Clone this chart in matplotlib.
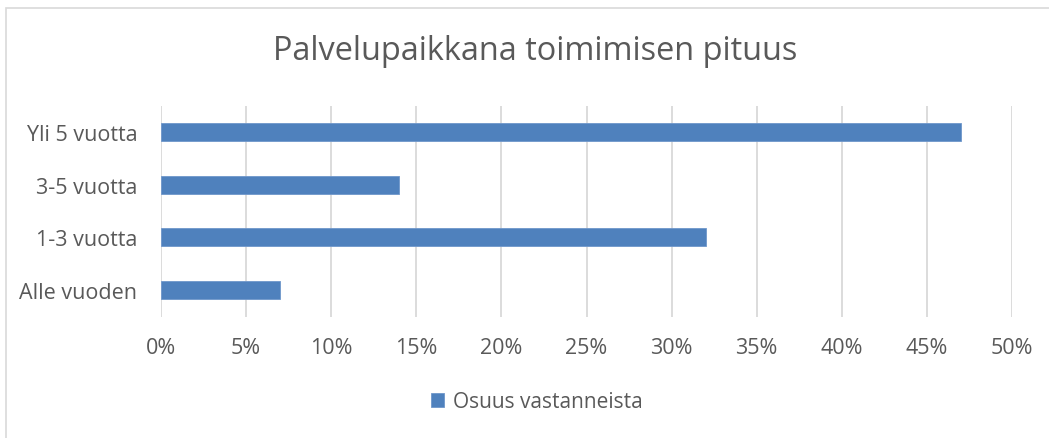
import matplotlib.pyplot as plt
from matplotlib.patches import Rectangle
from matplotlib.ticker import FuncFormatter

categories = ['Alle vuoden', '1-3 vuotta', '3-5 vuotta', 'Yli 5 vuotta']
shares = [7, 32, 14, 47]
series_name = 'Osuus vastanneista'
title = 'Palvelupaikkana toimimisen pituus'

bar_color = '#4F81BD'
text_color = '#595959'
grid_color = '#D9D9D9'

plt.rcParams['font.family'] = ['Open Sans', 'DejaVu Sans']

fig = plt.figure(figsize=(10.49, 4.39), dpi=100)
# chart frame, cut off on the right and bottom like the screenshot
fig.patches.append(Rectangle((5.5 / 1049, -0.05), 1.2, 1 - 8.5 / 439 + 0.05,
                             transform=fig.transFigure, fill=False,
                             edgecolor='#D9D9D9', linewidth=1.2))

ax = fig.add_axes([161 / 1049, 1 - 317.5 / 439, (1012 - 161) / 1049, (317.5 - 106.5) / 439])
ax.barh(range(len(categories)), shares, height=0.34, color=bar_color,
        edgecolor='#6F97CB', linewidth=0.6, label=series_name, zorder=3)

ax.set_xlim(0, 50)
ax.set_ylim(-0.5, len(categories) - 0.5)
ax.set_xticks(range(0, 51, 5))
ax.xaxis.set_major_formatter(FuncFormatter(lambda v, p: f'{v:.0f}%'))
ax.set_yticks(range(len(categories)))
ax.set_yticklabels(categories)
ax.grid(axis='x', color=grid_color, linewidth=1.3, zorder=0)
ax.tick_params(length=0, labelsize=15.5, labelcolor=text_color)
ax.tick_params(axis='x', pad=15)
ax.tick_params(axis='y', pad=17)
for s in ax.spines.values():
    s.set_visible(False)

fig.text(535 / 1049, 1 - 52 / 439, title, ha='center', va='center',
         fontsize=23.4, color=text_color)

fig.legend(loc='center', bbox_to_anchor=(537 / 1049, 1 - 403 / 439), frameon=False,
           fontsize=15, labelcolor=text_color, handlelength=0.62, handleheight=0.62,
           handletextpad=0.4)

fig.savefig('out.png', dpi=100, facecolor='white')
